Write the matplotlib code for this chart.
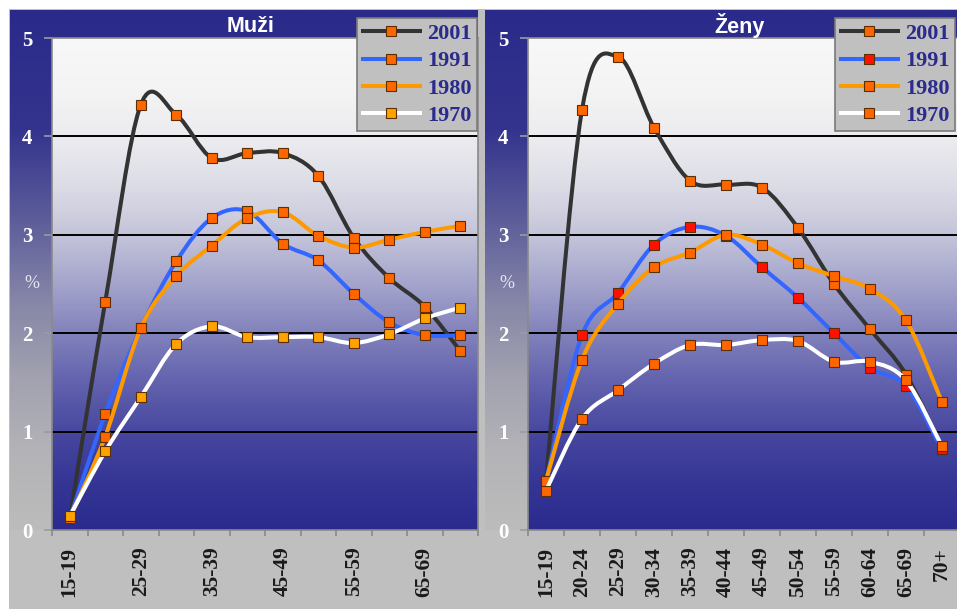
import numpy as np
import matplotlib
matplotlib.use("Agg")
import matplotlib.pyplot as plt
from matplotlib.path import Path
from matplotlib.patches import PathPatch, Rectangle
from matplotlib.lines import Line2D
from matplotlib.colors import LinearSegmentedColormap

# ---------------- data ----------------
categories = ["15-19", "20-24", "25-29", "30-34", "35-39", "40-44",
              "45-49", "50-54", "55-59", "60-64", "65-69", "70+"]
years = ["2001", "1991", "1980", "1970"]

men_2001 = [0.12, 2.32, 4.32, 4.22, 3.78, 3.83, 3.83, 3.60, 2.97, 2.56, 2.27, 1.82]
men_1991 = [0.12, 1.18, 2.05, 2.73, 3.17, 3.24, 2.91, 2.74, 2.40, 2.11, 1.98, 1.98]
men_1980 = [0.12, 0.95, 2.05, 2.58, 2.89, 3.17, 3.23, 2.99, 2.87, 2.95, 3.03, 3.09]
men_1970 = [0.14, 0.80, 1.35, 1.89, 2.07, 1.96, 1.96, 1.96, 1.90, 1.99, 2.15, 2.26]

women_2001 = [0.50, 4.27, 4.81, 4.09, 3.55, 3.51, 3.48, 3.07, 2.50, 2.04, 1.58, 0.84]
women_1991 = [0.50, 1.98, 2.41, 2.90, 3.08, 2.99, 2.67, 2.36, 2.00, 1.65, 1.46, 0.82]
women_1980 = [0.50, 1.73, 2.30, 2.67, 2.82, 3.00, 2.90, 2.71, 2.58, 2.45, 2.13, 1.30]
women_1970 = [0.40, 1.13, 1.42, 1.69, 1.88, 1.88, 1.93, 1.92, 1.71, 1.71, 1.52, 0.85]

yticks = [0, 1, 2, 3, 4, 5]
left_xtick_labels = ["15-19", "25-29", "35-39", "45-49", "55-59", "65-69"]

# ---------------- style ----------------
W, H = 957, 609
fig = plt.figure(figsize=(W / 100, H / 100), dpi=100, facecolor="white")


def fx(px):
    return px / W


def fy(py):
    return 1 - py / H


line_colors = ["#333333", "#3366ff", "#ff9900", "#ffffff"]
men_marker_colors = ["#ff6600", "#ff6600", "#ff6600", "#ffa200"]
women_marker_colors = ["#ff6600", "#ff1100", "#ff6600", "#ff6600"]

serif_bold = dict(family="Liberation Serif", weight="bold")

# gray page background
fig.patches.append(Rectangle((fx(9), 0), 1 - fx(9), fy(9), transform=fig.transFigure,
                             facecolor="#bfbfbf", edgecolor="none", zorder=-20))

frame_cmap = LinearSegmentedColormap.from_list(
    "frame", [(0.0, "#2a2a8a"), (0.23, "#34348e"), (0.40, "#5c5c9a"),
              (0.56, "#8686a8"), (0.71, "#a2a2b0"), (0.86, "#b4b4b8"), (1.0, "#bcbcbc")])
plot_cmap = LinearSegmentedColormap.from_list(
    "plot", [(0.0, "#2b2b8f"), (0.1, "#363696"), (0.2, "#4848a0"), (0.3, "#6262ae"),
             (0.4, "#8282bc"), (0.5, "#a4a4cc"), (0.6, "#c4c4da"), (0.7, "#dcdce6"),
             (0.8, "#ececf0"), (0.9, "#f4f4f4"), (1.0, "#f8f8f8")])

grad = np.linspace(0, 1, 256).reshape(-1, 1)


def frame(x0, x1):
    fa = fig.add_axes([fx(x0), fy(530), fx(x1) - fx(x0), fy(10) - fy(530)], zorder=-5)
    fa.imshow(grad, cmap=frame_cmap, aspect="auto", extent=[0, 1, 0, 1], origin="upper")
    fa.axis("off")


frame(10, 478)
frame(485, 960)


def smooth_patch(x, y, color, lw, z):
    # cubic Bezier (Catmull-Rom style) through the data points
    x = np.asarray(x, float)
    y = np.asarray(y, float)
    n = len(x)
    verts = [(x[0], y[0])]
    codes = [Path.MOVETO]
    for i in range(n - 1):
        p0 = np.array([x[max(i - 1, 0)], y[max(i - 1, 0)]])
        p1 = np.array([x[i], y[i]])
        p2 = np.array([x[i + 1], y[i + 1]])
        p3 = np.array([x[min(i + 2, n - 1)], y[min(i + 2, n - 1)]])
        c1 = p1 + (p2 - p0) / 6.0
        c2 = p2 - (p3 - p1) / 6.0
        verts += [tuple(c1), tuple(c2), tuple(p2)]
        codes += [Path.CURVE4] * 3
    return PathPatch(Path(verts, codes), fill=False, edgecolor=color, lw=lw,
                     capstyle="round", joinstyle="round", zorder=z)


def panel(x0, x1, title, series, marker_colors, xtick_labels, xtick_pos,
          title_x, leg_anchor, leg_loc, pct_x):
    ax = fig.add_axes([fx(x0), fy(530), fx(x1) - fx(x0), fy(38) - fy(530)])
    ax.imshow(grad, cmap=plot_cmap, aspect="auto", extent=[0, 1, 0, 1],
              transform=ax.transAxes, origin="lower", zorder=0)
    xs = np.arange(len(categories))
    ax.hlines(yticks[1:-1], -0.5, len(categories) - 0.5, colors="black", lw=1.4, zorder=1)
    handles = []
    for k, (vals, lc, mc) in enumerate(zip(series, line_colors, marker_colors)):
        ax.add_patch(smooth_patch(xs, vals, lc, 2.9, 2 + k))
        ax.plot(xs, vals, ls="none", marker="s", ms=6.6, mfc=mc, mec="#5a3000",
                mew=0.8, zorder=2.5 + k)
        handles.append(Line2D([], [], color=lc, lw=2.9, marker="s", ms=6.6,
                              mfc=mc, mec="#5a3000", mew=0.8))
    ax.set_xlim(-0.5, len(categories) - 0.5)
    ax.set_ylim(0, 5)
    ax.set_yticks(yticks)
    ax.set_yticklabels([str(v) for v in yticks], color="white", fontsize=15, **serif_bold)
    ax.set_xticks(np.arange(len(categories) + 1) - 0.5, minor=True)
    ax.set_xticks(xtick_pos)
    ax.set_xticklabels(xtick_labels, rotation=90, fontsize=15.5, color="#1a1a1a", **serif_bold)
    ax.tick_params(axis="x", which="major", length=0, pad=12)
    ax.tick_params(axis="x", which="minor", length=4, color="#8a8a8a", width=1.2)
    ax.tick_params(axis="y", length=6, color="#9a9aa6", width=1.2, pad=8)
    for s in ax.spines.values():
        s.set_color("#8a8a8a")
        s.set_linewidth(1.2)
    ax.set_ylabel("%", rotation=0, color="#e6e6f0", fontsize=13, family="Liberation Serif",
                  va="center", ha="center")
    ax.yaxis.set_label_coords(pct_x, 0.5)
    ax.text(title_x, 1.0 + 12 / 492, title, transform=ax.transAxes, ha="center", va="center",
            color="white", fontsize=15.5, family="Liberation Sans", weight="bold")
    leg = ax.legend(handles, years, loc=leg_loc, bbox_to_anchor=leg_anchor,
                    bbox_transform=fig.transFigure, prop=dict(size=16, **serif_bold),
                    labelcolor="#2b2b8c", facecolor="#c0c0c0", edgecolor="#7a7a7a",
                    framealpha=1, fancybox=False, borderaxespad=0, borderpad=0.25,
                    handlelength=2.6, handletextpad=0.3, labelspacing=0.3)
    leg.get_frame().set_linewidth(1.2)
    leg.set_zorder(20)
    return ax


panel(52, 478, "Muži", [men_2001, men_1991, men_1980, men_1970], men_marker_colors,
      left_xtick_labels, [categories.index(c) for c in left_xtick_labels],
      0.466, (fx(477), fy(18)), "upper right", -0.047)
panel(528, 960, "Ženy", [women_2001, women_1991, women_1980, women_1970], women_marker_colors,
      categories, list(range(len(categories))),
      0.49, (fx(835), fy(18)), "upper left", -0.049)

fig.savefig("out.png", dpi=100, facecolor=fig.get_facecolor())
